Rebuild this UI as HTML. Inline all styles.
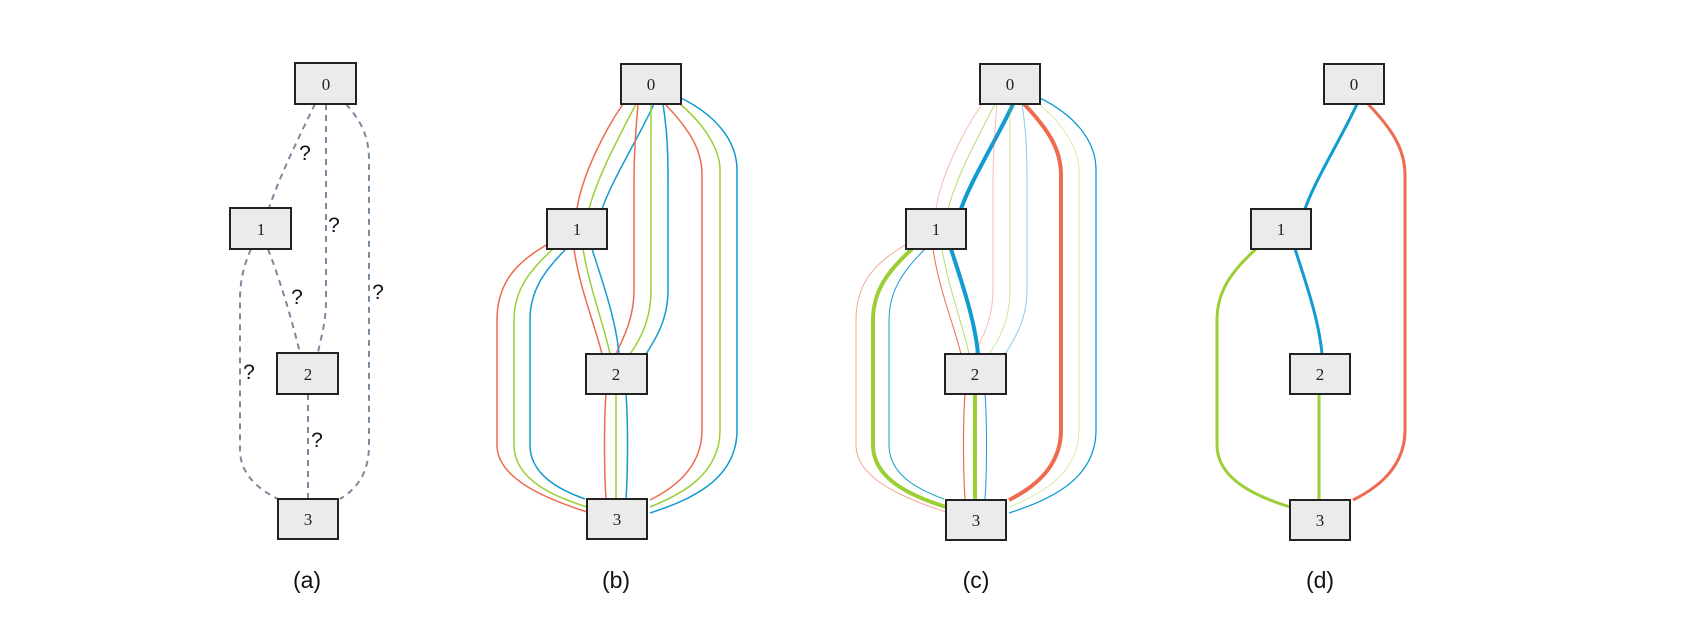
<!DOCTYPE html>
<html><head><meta charset="utf-8"><style>
body{margin:0;background:#fff;}
svg{display:block;}
.n rect{fill:#ebebeb;stroke:#222;stroke-width:2;}
.n text{font-family:"Liberation Serif",serif;font-size:17px;fill:#222;text-anchor:middle;}
.q{font-family:"Liberation Sans",sans-serif;font-size:21px;fill:#111;text-anchor:middle;}
.cap{font-family:"Liberation Sans",sans-serif;font-size:23px;fill:#111;text-anchor:middle;}
path{fill:none;}
</style></head><body>
<svg width="1689" height="621" viewBox="0 0 1689 621" xmlns="http://www.w3.org/2000/svg">
<defs>
<marker id="ag" viewBox="0 0 10 10" refX="10" refY="5" markerUnits="userSpaceOnUse" markerWidth="14" markerHeight="12" orient="auto"><path d="M0,0L10,5L0,10z" fill="#7a8a9e"/></marker>
<marker id="mr" viewBox="0 0 10 10" refX="10" refY="5" markerUnits="userSpaceOnUse" markerWidth="10" markerHeight="8" orient="auto"><path d="M0,0L10,5L0,10z" fill="#ef6b50"/></marker>
<marker id="mg" viewBox="0 0 10 10" refX="10" refY="5" markerUnits="userSpaceOnUse" markerWidth="10" markerHeight="8" orient="auto"><path d="M0,0L10,5L0,10z" fill="#9bcf35"/></marker>
<marker id="mb" viewBox="0 0 10 10" refX="10" refY="5" markerUnits="userSpaceOnUse" markerWidth="10" markerHeight="8" orient="auto"><path d="M0,0L10,5L0,10z" fill="#129bd1"/></marker>
<marker id="Mr" viewBox="0 0 10 10" refX="10" refY="5" markerUnits="userSpaceOnUse" markerWidth="14" markerHeight="11" orient="auto"><path d="M0,0L10,5L0,10z" fill="#ef6b50"/></marker>
<marker id="Mg" viewBox="0 0 10 10" refX="10" refY="5" markerUnits="userSpaceOnUse" markerWidth="14" markerHeight="11" orient="auto"><path d="M0,0L10,5L0,10z" fill="#9bcf35"/></marker>
<marker id="Mb" viewBox="0 0 10 10" refX="10" refY="5" markerUnits="userSpaceOnUse" markerWidth="14" markerHeight="11" orient="auto"><path d="M0,0L10,5L0,10z" fill="#129bd1"/></marker>
</defs>

<!-- Panel a -->
<g stroke="#7a8a9e" stroke-width="2" stroke-dasharray="6,5" marker-end="url(#ag)">
<path d="M315,104 C300,135 280,175 269,208"/>
<path d="M326,104 L326,300 C326,325 320,340 318,353"/>
<path d="M346,104 C360,120 369,135 369,160 L369,445 C369,475 355,490 340,499"/>
<path d="M268,249 C280,280 292,320 300,353"/>
<path d="M251,249 C244,265 240,280 240,300 L240,450 C240,475 260,490 278,499"/>
<path d="M308,394 L308,499"/>
</g>
<text class="q" x="305" y="160">?</text>
<text class="q" x="334" y="232">?</text>
<text class="q" x="378" y="299">?</text>
<text class="q" x="297" y="304">?</text>
<text class="q" x="249" y="379">?</text>
<text class="q" x="317" y="447">?</text>
<g class="n">
<rect x="295" y="63" width="61" height="41"/><text x="326" y="90">0</text>
<rect x="230" y="208" width="61" height="41"/><text x="261" y="235">1</text>
<rect x="277" y="353" width="61" height="41"/><text x="308" y="380">2</text>
<rect x="278" y="499" width="60" height="40"/><text x="308" y="525">3</text>
</g>
<text class="cap" x="307" y="588">(a)</text>

<!-- Panel b -->
<g stroke-width="1.5">
<path stroke="#ef6b50" marker-end="url(#mr)" d="M623,104 C605,130 582,175 577,209"/>
<path stroke="#9bcf35" marker-end="url(#mg)" d="M636,104 C620,135 598,175 589,209"/>
<path stroke="#129bd1" marker-end="url(#mb)" d="M654,104 C640,135 612,180 602,209"/>
<path stroke="#ef6b50" marker-end="url(#mr)" d="M638,104 C636,130 634,150 634,180 L634,290 C634,320 622,340 616,354"/>
<path stroke="#9bcf35" marker-end="url(#mg)" d="M651,104 L651,290 C651,320 640,340 630,354"/>
<path stroke="#129bd1" marker-end="url(#mb)" d="M663,104 C667,130 668,150 668,180 L668,290 C668,320 655,340 646,354"/>
<path stroke="#ef6b50" marker-end="url(#mr)" d="M665,104 C690,130 702,150 702,175 L702,430 C702,470 670,490 650,500"/>
<path stroke="#9bcf35" marker-end="url(#mg)" d="M680,104 C705,125 720,150 720,170 L720,430 C720,475 680,495 650,507"/>
<path stroke="#129bd1" marker-end="url(#mb)" d="M681,98 C715,115 737,140 737,170 L737,430 C737,480 690,500 650,513"/>
<path stroke="#ef6b50" marker-end="url(#mr)" d="M574,249 C580,290 595,325 602,354"/>
<path stroke="#9bcf35" marker-end="url(#mg)" d="M583,249 C590,290 604,325 610,354"/>
<path stroke="#129bd1" marker-end="url(#mb)" d="M592,249 C602,280 616,320 619,354"/>
<path stroke="#ef6b50" marker-end="url(#mr)" d="M548,244 C520,260 497,280 497,320 L497,445 C497,480 550,500 587,512"/>
<path stroke="#9bcf35" marker-end="url(#mg)" d="M553,249 C530,270 514,290 514,320 L514,445 C514,480 555,497 587,507"/>
<path stroke="#129bd1" marker-end="url(#mb)" d="M566,249 C545,270 530,290 530,320 L530,445 C530,475 560,490 585,499"/>
<path stroke="#ef6b50" marker-end="url(#mr)" d="M606,394 C604,420 604,470 606,499"/>
<path stroke="#9bcf35" marker-end="url(#mg)" d="M616,394 L616,499"/>
<path stroke="#129bd1" marker-end="url(#mb)" d="M626,394 C628,420 628,470 626,499"/>
</g>
<g class="n">
<rect x="621" y="64" width="60" height="40"/><text x="651" y="90">0</text>
<rect x="547" y="209" width="60" height="40"/><text x="577" y="235">1</text>
<rect x="586" y="354" width="61" height="40"/><text x="616" y="380">2</text>
<rect x="587" y="499" width="60" height="40"/><text x="617" y="525">3</text>
</g>
<text class="cap" x="616" y="588">(b)</text>

<!-- Panel c -->
<g transform="translate(359,0)">
<path stroke="#ef6b50" stroke-width="1" opacity="0.45" marker-end="url(#mr)" d="M623,104 C605,130 582,175 577,209"/>
<path stroke="#9bcf35" stroke-width="1" opacity="0.7" marker-end="url(#mg)" d="M636,104 C620,135 598,175 589,209"/>
<path stroke="#129bd1" stroke-width="4" marker-end="url(#Mb)" d="M654,104 C640,135 612,180 602,209"/>
<path stroke="#ef6b50" stroke-width="1" opacity="0.45" marker-end="url(#mr)" d="M638,104 C636,130 634,150 634,180 L634,290 C634,320 622,340 616,354"/>
<path stroke="#9bcf35" stroke-width="1" opacity="0.5" marker-end="url(#mg)" d="M651,104 L651,290 C651,320 640,340 630,354"/>
<path stroke="#129bd1" stroke-width="1" opacity="0.5" marker-end="url(#mb)" d="M663,104 C667,130 668,150 668,180 L668,290 C668,320 655,340 646,354"/>
<path stroke="#ef6b50" stroke-width="4" marker-end="url(#Mr)" d="M665,104 C690,130 702,150 702,175 L702,430 C702,470 670,490 650,500"/>
<path stroke="#9bcf35" stroke-width="1" opacity="0.4" marker-end="url(#mg)" d="M680,104 C705,125 720,150 720,170 L720,430 C720,475 680,495 650,507"/>
<path stroke="#129bd1" stroke-width="1.3" marker-end="url(#mb)" d="M681,98 C715,115 737,140 737,170 L737,430 C737,480 690,500 650,513"/>
<path stroke="#ef6b50" stroke-width="1" marker-end="url(#mr)" d="M574,249 C580,290 595,325 602,354"/>
<path stroke="#9bcf35" stroke-width="1" opacity="0.7" marker-end="url(#mg)" d="M583,249 C590,290 604,325 610,354"/>
<path stroke="#129bd1" stroke-width="4" marker-end="url(#Mb)" d="M592,249 C602,280 616,320 619,354"/>
<path stroke="#ef6b50" stroke-width="1" opacity="0.6" marker-end="url(#mr)" d="M548,244 C520,260 497,280 497,320 L497,445 C497,480 550,500 587,512"/>
<path stroke="#9bcf35" stroke-width="4" marker-end="url(#Mg)" d="M553,249 C530,270 514,290 514,320 L514,445 C514,480 555,497 587,507"/>
<path stroke="#129bd1" stroke-width="1" marker-end="url(#mb)" d="M566,249 C545,270 530,290 530,320 L530,445 C530,475 560,490 585,499"/>
<path stroke="#ef6b50" stroke-width="1.2" marker-end="url(#mr)" d="M606,394 C604,420 604,470 606,499"/>
<path stroke="#9bcf35" stroke-width="4" marker-end="url(#Mg)" d="M616,394 L616,499"/>
<path stroke="#129bd1" stroke-width="1" marker-end="url(#mb)" d="M626,394 C628,420 628,470 626,499"/>
<g class="n">
<rect x="621" y="64" width="60" height="40"/><text x="651" y="90">0</text>
<rect x="547" y="209" width="60" height="40"/><text x="577" y="235">1</text>
<rect x="586" y="354" width="61" height="40"/><text x="616" y="380">2</text>
<rect x="587" y="500" width="60" height="40"/><text x="617" y="526">3</text>
</g>
<text class="cap" x="617" y="588">(c)</text>
</g>

<!-- Panel d -->
<g transform="translate(703,0)">
<path stroke="#129bd1" stroke-width="3" marker-end="url(#Mb)" d="M654,104 C640,135 612,180 602,209"/>
<path stroke="#ef6b50" stroke-width="3" marker-end="url(#Mr)" d="M665,104 C690,130 702,150 702,175 L702,430 C702,470 670,490 650,500"/>
<path stroke="#129bd1" stroke-width="3" marker-end="url(#Mb)" d="M592,249 C602,280 616,320 619,354"/>
<path stroke="#9bcf35" stroke-width="3" marker-end="url(#Mg)" d="M553,249 C530,270 514,290 514,320 L514,445 C514,480 555,497 587,507"/>
<path stroke="#9bcf35" stroke-width="3" marker-end="url(#Mg)" d="M616,394 L616,499"/>
<g class="n">
<rect x="621" y="64" width="60" height="40"/><text x="651" y="90">0</text>
<rect x="548" y="209" width="60" height="40"/><text x="578" y="235">1</text>
<rect x="587" y="354" width="60" height="40"/><text x="617" y="380">2</text>
<rect x="587" y="500" width="60" height="40"/><text x="617" y="526">3</text>
</g>
<text class="cap" x="617" y="588">(d)</text>
</g>
</svg>
</body></html>
